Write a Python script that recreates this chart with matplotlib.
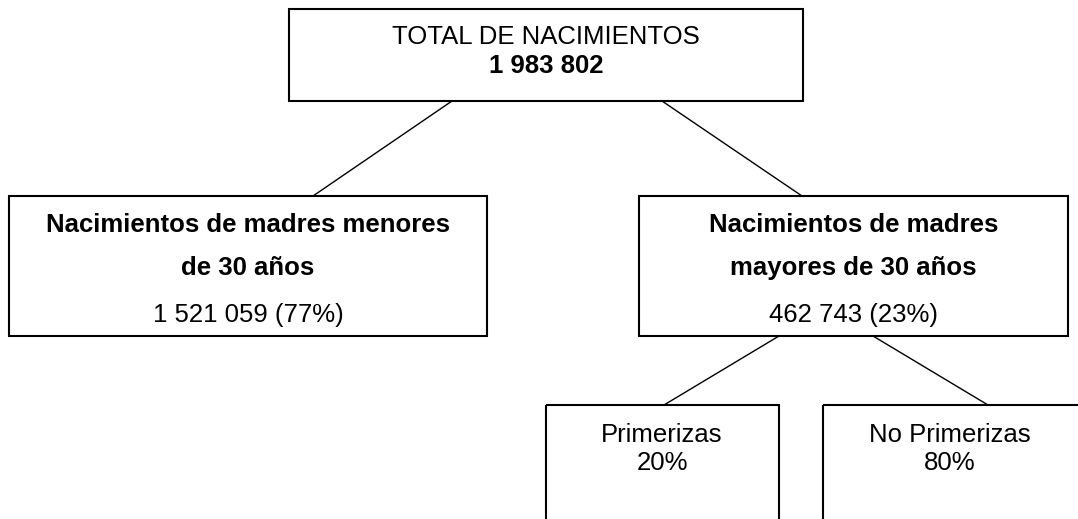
import matplotlib.pyplot as plt
from matplotlib.patches import Rectangle

# data
total_title = "TOTAL DE NACIMIENTOS"
total_births = 1983802
group_titles = [["Nacimientos de madres menores", "de 30 años"],
                ["Nacimientos de madres", "mayores de 30 años"]]
group_births = [1521059, 462743]
group_shares = [77, 23]
sub_labels = ["Primerizas", "No Primerizas"]
sub_shares = [20, 80]


def fmt(n):
    # thousands separated by a space
    return "{:,}".format(n).replace(",", " ")


W, H = 1078, 519
fig = plt.figure(figsize=(W / 100, H / 100), dpi=100)
ax = fig.add_axes([0, 0, 1, 1])
ax.set_xlim(0, W)
ax.set_ylim(H, 0)
ax.axis("off")

font = "Liberation Sans"
fs = 18.5


def box(x0, y0, x1, y1):
    ax.add_patch(Rectangle((x0, y0), x1 - x0, y1 - y0, fill=False,
                           edgecolor="black", linewidth=1.5, clip_on=True))


def link(x0, y0, x1, y1):
    ax.plot([x0, x1], [y0, y1], color="black", linewidth=1.0)


def label(x, y, s, bold=False):
    ax.text(x, y, s, ha="center", va="baseline", fontsize=fs, family=font,
            fontweight="bold" if bold else "normal", color="black")


# top node
box(289, 9, 803, 101)
label(546, 44, total_title)
label(546, 73, fmt(total_births), bold=True)

# second level
link(452, 101, 313, 196)
link(662, 101, 802, 196)
groups = [(9, 487), (639, 1068)]
for (x0, x1), title, n, p in zip(groups, group_titles, group_births, group_shares):
    box(x0, 196, x1, 336)
    cx = (x0 + x1) / 2
    label(cx, 232, title[0], bold=True)
    label(cx, 275, title[1], bold=True)
    label(cx, 322, "%s (%d%%)" % (fmt(n), p))

# third level
link(779, 336, 664, 405)
link(873, 336, 988, 405)
subs = [(546, 779, 662), (823, 1084, 950)]
for (x0, x1, cx), name, p in zip(subs, sub_labels, sub_shares):
    box(x0, 405, x1, 540)
    label(cx, 442, name)
    label(cx, 470, "%d%%" % p)

fig.savefig("out.png", dpi=100, facecolor="white")
